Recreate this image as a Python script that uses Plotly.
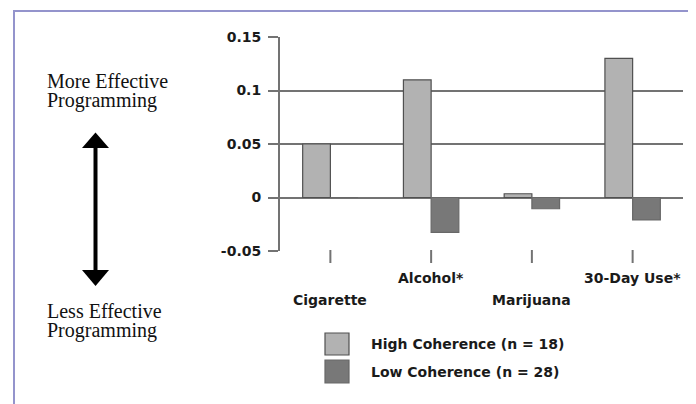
import plotly.graph_objects as go

categories = ["Cigarette", "Alcohol*", "Marijuana", "30-Day Use*"]
series_names = ["High Coherence (n = 18)", "Low Coherence (n = 28)"]
high_values = [0.05, 0.11, 0.0035, 0.13]
low_values = [0.0, -0.0325, -0.0105, -0.021]
y_ticks = [-0.05, 0, 0.05, 0.1, 0.15]
y_tick_text = ["-0.05", "0", "0.05", "0.1", "0.15"]
top_text = ["More Effective", "Programming"]
bottom_text = ["Less Effective", "Programming"]

OFF = 8  # default page margin offset
W, H = 696 - OFF, 404 - OFF
ML, MR, MT, MB = 280 - OFF, 13, 37 - OFF, 153
PW = W - ML - MR
PH = H - MT - MB


def px(x):
    return (x - OFF - ML) / PW


def py(y):
    return (H - MB - (y - OFF)) / PH


fill_colors = ["#b2b2b2", "#787878"]
line_colors = ["#505050", "#686868"]

fig = go.Figure()
for name, vals, fc, lc in zip(series_names, [high_values, low_values], fill_colors, line_colors):
    fig.add_trace(go.Bar(
        x=categories, y=vals, name=name,
        marker=dict(color=fc, line=dict(color=lc, width=1.2)),
        showlegend=False,
    ))

tick_font = dict(family="DejaVu Sans", size=14, color="#1a1a1a")
grid_col = "#737373"

fig.update_layout(
    width=W, height=H,
    margin=dict(l=ML, r=MR, t=MT, b=MB),
    paper_bgcolor="white", plot_bgcolor="white",
    barmode="group", bargap=0.45, bargroupgap=0,
    xaxis=dict(
        range=[-0.5, 3.5], showgrid=False, zeroline=False,
        showline=False, ticks="", showticklabels=False,
    ),
    yaxis=dict(
        range=[-0.05, 0.15], tickvals=y_ticks, ticktext=[f"<b>{t}</b>" for t in y_tick_text],
        showgrid=True, gridcolor=grid_col, gridwidth=2,
        zeroline=True, zerolinecolor=grid_col, zerolinewidth=2,
        showline=True, linecolor=grid_col, linewidth=2,
        ticks="outside", ticklen=10, tickwidth=2, tickcolor=grid_col,
        tickfont=tick_font, ticklabelstandoff=4,
    ),
    font=dict(family="DejaVu Sans"),
)

shapes = []
annotations = []

# category ticks below axis and staggered labels
for i, c in enumerate(categories):
    shapes.append(dict(type="line", xref="x", yref="paper", x0=i, x1=i,
                       y0=py(250), y1=py(263), line=dict(color=grid_col, width=2)))
    ycen = 300 if i % 2 == 0 else 278
    annotations.append(dict(xref="x", yref="paper", x=i, y=py(ycen), text=f"<b>{c}</b>",
                            showarrow=False, xanchor="center", yanchor="middle",
                            font=tick_font))

# custom legend
leg_y = [(333, 355), (360, 383)]
for (y0, y1), name, fc, lc in zip(leg_y, series_names, fill_colors, line_colors):
    shapes.append(dict(type="rect", xref="paper", yref="paper",
                       x0=px(325), x1=px(349), y0=py(y1), y1=py(y0),
                       fillcolor=fc, line=dict(color=lc, width=1.2)))
    annotations.append(dict(xref="paper", yref="paper", x=px(369), y=py((y0 + y1) / 2),
                            text=f"<b>{name}</b>", showarrow=False, xanchor="left",
                            yanchor="middle", font=dict(family="DejaVu Sans", size=14, color="#1a1a1a")))

# left side texts
serif = dict(family="Liberation Serif", size=20, color="#111111")
for t, yc in zip(top_text, [81, 100]):
    annotations.append(dict(xref="paper", yref="paper", x=px(45), y=py(yc), text=t,
                            showarrow=False, xanchor="left", yanchor="middle", font=serif))
for t, yc in zip(bottom_text, [311, 330]):
    annotations.append(dict(xref="paper", yref="paper", x=px(45), y=py(yc), text=t,
                            showarrow=False, xanchor="left", yanchor="middle", font=serif))

# double arrow
ax = 95.5
shapes.append(dict(type="line", xref="paper", yref="paper", x0=px(ax), x1=px(ax),
                   y0=py(146), y1=py(272), line=dict(color="black", width=4)))
for tip, base in [(132.5, 148), (286, 270)]:
    path = (f"M {px(ax)} {py(tip)} L {px(ax - 13.5)} {py(base)} "
            f"L {px(ax + 13.5)} {py(base)} Z")
    shapes.append(dict(type="path", xref="paper", yref="paper", path=path,
                       fillcolor="black", line=dict(color="black", width=0)))

# frame border (top and left)
border = "#9494cc"
shapes.append(dict(type="line", xref="paper", yref="paper", x0=px(14), x1=px(700),
                   y0=py(11), y1=py(11), line=dict(color=border, width=2)))
shapes.append(dict(type="line", xref="paper", yref="paper", x0=px(14), x1=px(14),
                   y0=py(10), y1=py(410), line=dict(color=border, width=2)))

fig.update_layout(shapes=shapes, annotations=annotations)
fig.write_html("out.html")
